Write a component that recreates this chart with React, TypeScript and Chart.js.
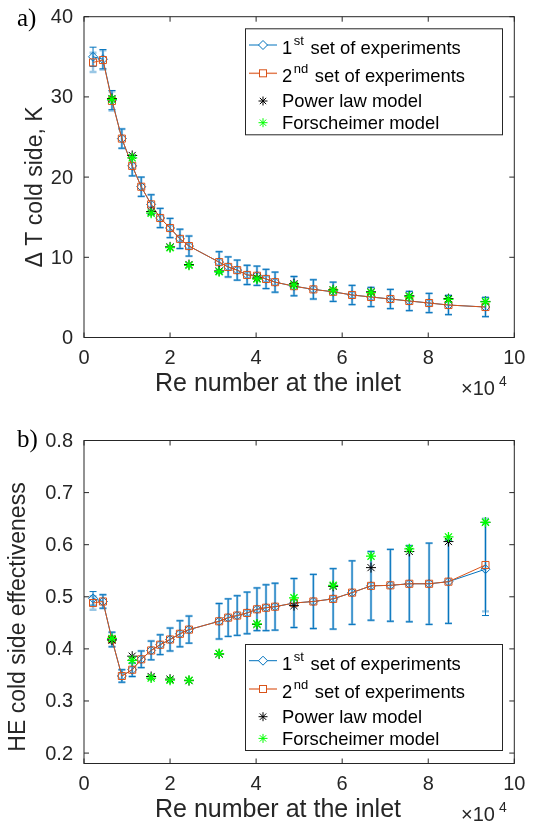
import React, { useEffect, useRef } from 'react';
import { Chart, registerables } from 'chart.js';

Chart.register(...registerables);

// ---------- data ----------
const reExp = [2100, 4400, 6500, 8800, 11200, 13300, 15600, 17700, 20000, 22300, 24400, 31400, 33500, 35600, 37900, 40200, 42300, 44400, 48800, 53300, 57900, 62300, 66700, 71200, 75600, 80200, 84700, 93300];
const dT1 = [35.0, 34.7, 29.6, 24.8, 21.4, 18.8, 16.6, 14.9, 13.65, 12.3, 11.4, 9.4, 8.8, 8.4, 7.8, 7.7, 7.3, 6.9, 6.4, 6.0, 5.7, 5.3, 5.05, 4.8, 4.55, 4.3, 4.05, 3.8];
const dT2 = [34.3, 34.6, 29.5, 24.8, 21.4, 18.8, 16.6, 14.9, 13.65, 12.3, 11.4, 9.4, 8.8, 8.4, 7.8, 7.7, 7.3, 6.9, 6.4, 6.0, 5.7, 5.3, 5.05, 4.8, 4.55, 4.3, 4.05, 3.8];
const dTErr = [1.2, 1.2, 1.2, 1.2, 1.25, 1.2, 1.2, 1.2, 1.2, 1.2, 1.25, 1.3, 1.25, 1.25, 1.2, 1.2, 1.2, 1.25, 1.2, 1.2, 1.2, 1.2, 1.2, 1.2, 1.2, 1.2, 1.2, 1.2];
const eff1 = [0.497, 0.491, 0.418, 0.348, 0.360, 0.380, 0.397, 0.408, 0.418, 0.429, 0.437, 0.453, 0.460, 0.464, 0.469, 0.476, 0.479, 0.481, 0.488, 0.491, 0.496, 0.508, 0.521, 0.522, 0.525, 0.525, 0.529, 0.553];
const eff2 = [0.488, 0.491, 0.418, 0.348, 0.360, 0.380, 0.397, 0.408, 0.418, 0.429, 0.437, 0.453, 0.460, 0.464, 0.469, 0.476, 0.479, 0.481, 0.488, 0.491, 0.496, 0.508, 0.521, 0.522, 0.525, 0.525, 0.529, 0.561];
const effErr = [0.013, 0.013, 0.014, 0.012, 0.013, 0.016, 0.018, 0.019, 0.022, 0.025, 0.026, 0.034, 0.036, 0.038, 0.040, 0.041, 0.044, 0.045, 0.047, 0.052, 0.058, 0.061, 0.066, 0.069, 0.073, 0.078, 0.080, 0.089];

const reModel = [6500, 11200, 15600, 20000, 24400, 31400, 40200, 48800, 57900, 66700, 75600, 84700, 93300];
const dTPower = [29.8, 22.7, 15.7, 11.3, 9.1, 8.3, 7.4, 6.7, 5.95, 5.7, 5.2, 4.85, 4.5];
const dTForsch = [29.7, 22.4, 15.5, 11.2, 9.0, 8.2, 7.3, 6.55, 5.9, 5.6, 5.1, 4.75, 4.45];
const effPower = [0.417, 0.386, 0.347, 0.342, 0.339, 0.390, 0.447, 0.483, 0.520, 0.556, 0.587, 0.606, 0.643];
const effForsch = [0.420, 0.378, 0.344, 0.340, 0.340, 0.391, 0.448, 0.498, 0.522, 0.578, 0.592, 0.615, 0.643];

const xTicks = [0, 20000, 40000, 60000, 80000, 100000];
const dTTicks = [0, 10, 20, 30, 40];
const effTicks = [0.2, 0.3, 0.4, 0.5, 0.6, 0.7, 0.8];

const legendLabels = [
  ['1', 'st', ' set of experiments'],
  ['2', 'nd', ' set of experiments'],
  ['Power law model', '', ''],
  ['Forscheimer model', '', ''],
];

// ---------- styles ----------
const BLUE = '#0072BD';
const ORANGE = '#D95319';
const GREEN = '#00FF00';
const AX = '#262626';
const SANS = '"Liberation Sans", Arial, Helvetica, sans-serif';
const SERIF = '"Liberation Serif", "Times New Roman", serif';
const W = 535;
const PLOT_LEFT = 84;
const PLOT_RIGHT = 514.3;

type PanelCfg = {
  height: number;
  padTop: number;
  plotBottom: number;
  yMin: number;
  yMax: number;
  yTicks: number[];
  yDec: number;
  v1: number[];
  v2: number[];
  err: number[];
  vPower: number[];
  vForsch: number[];
  yTitle: string;
  yTitleX: number;
  yTitleY: number;
  panelLabel: string;
  panelLabelY: number;
  legendTop: number;
};

function drawStar(ctx: CanvasRenderingContext2D, x: number, y: number, r: number, color: string) {
  ctx.save();
  ctx.strokeStyle = color;
  ctx.lineWidth = 1;
  ctx.beginPath();
  ctx.moveTo(x - r, y); ctx.lineTo(x + r, y);
  ctx.moveTo(x, y - r); ctx.lineTo(x, y + r);
  const d = r * Math.SQRT1_2;
  ctx.moveTo(x - d, y - d); ctx.lineTo(x + d, y + d);
  ctx.moveTo(x - d, y + d); ctx.lineTo(x + d, y - d);
  ctx.stroke();
  ctx.restore();
}

function drawLegend(ctx: CanvasRenderingContext2D, bx: number, by: number) {
  const w = 257, h = 106;
  ctx.save();
  ctx.fillStyle = '#ffffff';
  ctx.fillRect(bx, by, w, h);
  ctx.strokeStyle = AX;
  ctx.lineWidth = 1;
  ctx.strokeRect(bx + 0.5, by + 0.5, w, h);
  const rowsMid = [16.7, 45, 72.7, 94.4];
  const rowsBase = [25.7, 54, 78.5, 100.5];
  const lx0 = bx + 4, lx1 = bx + 32, mx = bx + 18;
  // row 1 sample
  ctx.strokeStyle = BLUE;
  ctx.beginPath(); ctx.moveTo(lx0, by + rowsMid[0]); ctx.lineTo(lx1, by + rowsMid[0]); ctx.stroke();
  ctx.fillStyle = '#fff';
  ctx.beginPath();
  const r = 4.5, cy0 = by + rowsMid[0];
  ctx.moveTo(mx, cy0 - r); ctx.lineTo(mx + r, cy0); ctx.lineTo(mx, cy0 + r); ctx.lineTo(mx - r, cy0); ctx.closePath();
  ctx.fill(); ctx.stroke();
  // row 2 sample
  ctx.strokeStyle = ORANGE;
  ctx.globalAlpha = 0.75;
  ctx.lineWidth = 1.5;
  ctx.beginPath(); ctx.moveTo(lx0, by + rowsMid[1]); ctx.lineTo(lx1, by + rowsMid[1]); ctx.stroke();
  ctx.globalAlpha = 1;
  ctx.lineWidth = 1;
  const s = 3.5, cy1 = by + rowsMid[1];
  ctx.fillRect(mx - s, cy1 - s, 2 * s, 2 * s);
  ctx.strokeRect(mx - s, cy1 - s, 2 * s, 2 * s);
  // row 3/4
  drawStar(ctx, mx, by + rowsMid[2], 4.5, '#000');
  drawStar(ctx, mx, by + rowsMid[3], 4.5, GREEN);
  // text
  ctx.fillStyle = '#000';
  ctx.textBaseline = 'alphabetic';
  ctx.textAlign = 'left';
  legendLabels.forEach((parts, i) => {
    let x = bx + 37;
    const yb = by + rowsBase[i];
    ctx.font = `18.4px ${SANS}`;
    ctx.fillText(parts[0], x, yb);
    x += ctx.measureText(parts[0]).width;
    if (parts[1]) {
      ctx.font = `13px ${SANS}`;
      ctx.fillText(parts[1], x + 1.5, yb - 9);
      x += ctx.measureText(parts[1]).width + 3;
      ctx.font = `18.4px ${SANS}`;
      ctx.fillText(parts[2], x, yb);
    }
  });
  ctx.restore();
}

function makeDecor(cfg: PanelCfg) {
  return {
    id: 'decor',
    beforeDatasetsDraw(chart: any) {
      const { ctx, chartArea: a } = chart;
      const xs = chart.scales.x, ys = chart.scales.y;
      ctx.save();
      ctx.beginPath();
      ctx.rect(a.left, a.top, a.right - a.left, a.bottom - a.top);
      ctx.clip();
      const layers = [
        { vals: cfg.v2, color: 'rgba(0,114,189,0.4)', lw: 2.4 },
        { vals: cfg.v1, color: BLUE, lw: 1 },
      ];
      layers.forEach((L) => {
        ctx.strokeStyle = L.color;
        ctx.lineWidth = L.lw;
        reExp.forEach((re, i) => {
          const px = xs.getPixelForValue(re);
          const pTop = ys.getPixelForValue(L.vals[i] + cfg.err[i]);
          const pBot = ys.getPixelForValue(L.vals[i] - cfg.err[i]);
          ctx.beginPath();
          ctx.moveTo(px, pTop); ctx.lineTo(px, pBot);
          ctx.moveTo(px - 3.5, pTop); ctx.lineTo(px + 3.5, pTop);
          ctx.moveTo(px - 3.5, pBot); ctx.lineTo(px + 3.5, pBot);
          ctx.stroke();
        });
      });
      ctx.restore();
    },
    afterDraw(chart: any) {
      const { ctx, chartArea: a } = chart;
      const xs = chart.scales.x, ys = chart.scales.y;
      ctx.save();
      drawLegend(ctx, 245, cfg.legendTop);
      // box
      ctx.strokeStyle = AX;
      ctx.lineWidth = 1;
      ctx.strokeRect(a.left, a.top, a.right - a.left, a.bottom - a.top);
      // ticks
      ctx.beginPath();
      xTicks.forEach((v) => {
        const px = xs.getPixelForValue(v);
        ctx.moveTo(px, a.bottom); ctx.lineTo(px, a.bottom - 5);
        ctx.moveTo(px, a.top); ctx.lineTo(px, a.top + 5);
      });
      cfg.yTicks.forEach((v) => {
        const py = ys.getPixelForValue(v);
        ctx.moveTo(a.left, py); ctx.lineTo(a.left + 5, py);
        ctx.moveTo(a.right, py); ctx.lineTo(a.right - 5, py);
      });
      ctx.stroke();
      // tick labels
      ctx.fillStyle = AX;
      ctx.font = `20px ${SANS}`;
      ctx.textBaseline = 'middle';
      ctx.textAlign = 'center';
      xTicks.forEach((v) => {
        ctx.fillText(String(v / 10000), xs.getPixelForValue(v), a.bottom + 21);
      });
      ctx.textAlign = 'right';
      cfg.yTicks.forEach((v) => {
        ctx.fillText(v.toFixed(cfg.yDec), a.left - 11, ys.getPixelForValue(v) + 1);
      });
      // x title
      ctx.font = `25px ${SANS}`;
      ctx.textAlign = 'right';
      ctx.fillText('Re number at the inlet', 401, a.bottom + 47);
      // exponent
      ctx.textAlign = 'left';
      ctx.textBaseline = 'alphabetic';
      ctx.font = `20px ${SANS}`;
      ctx.fillText('\u00d710', 461, a.bottom + 57);
      ctx.font = `14px ${SANS}`;
      ctx.fillText('4', 499, a.bottom + 48);
      // y title
      ctx.save();
      ctx.translate(cfg.yTitleX, cfg.yTitleY);
      ctx.rotate(-Math.PI / 2);
      ctx.font = `23px ${SANS}`;
      ctx.textAlign = 'center';
      ctx.textBaseline = 'alphabetic';
      ctx.fillText(cfg.yTitle, 0, 0);
      ctx.restore();
      // panel label
      ctx.fillStyle = '#000';
      ctx.font = `25px ${SERIF}`;
      ctx.textAlign = 'left';
      ctx.textBaseline = 'alphabetic';
      ctx.fillText(cfg.panelLabel, 17, cfg.panelLabelY);
      ctx.restore();
    },
  };
}

function Panel({ cfg }: { cfg: PanelCfg }) {
  const ref = useRef<HTMLCanvasElement | null>(null);
  useEffect(() => {
    const canvas = ref.current;
    if (!canvas) return;
    const chart = new Chart(canvas, {
      type: 'line',
      data: {
        datasets: [
          {
            label: '1st set of experiments',
            data: reExp.map((x, i) => ({ x, y: cfg.v1[i] })),
            borderColor: BLUE,
            backgroundColor: 'rgba(0,0,0,0)',
            borderWidth: 1,
            pointStyle: 'rectRot',
            pointRadius: 4.5,
            pointBorderColor: BLUE,
            pointBackgroundColor: 'rgba(0,0,0,0)',
            pointBorderWidth: 1,
            order: 4,
          },
          {
            label: '2nd set of experiments',
            data: reExp.map((x, i) => ({ x, y: cfg.v2[i] })),
            borderColor: ORANGE,
            backgroundColor: 'rgba(0,0,0,0)',
            borderWidth: 1,
            pointStyle: 'rect',
            pointRadius: 5,
            pointBorderColor: ORANGE,
            pointBackgroundColor: 'rgba(0,0,0,0)',
            pointBorderWidth: 1,
            order: 3,
          },
          {
            label: 'Power law model',
            data: reModel.map((x, i) => ({ x, y: cfg.vPower[i] })),
            showLine: false,
            borderColor: '#000',
            pointStyle: 'star',
            pointRadius: 5,
            pointBorderColor: '#000',
            pointBorderWidth: 1,
            order: 2,
          },
          {
            label: 'Forscheimer model',
            data: reModel.map((x, i) => ({ x, y: cfg.vForsch[i] })),
            showLine: false,
            borderColor: GREEN,
            pointStyle: 'star',
            pointRadius: 5,
            pointBorderColor: GREEN,
            pointBorderWidth: 1.3,
            order: 1,
          },
        ],
      },
      options: {
        animation: false,
        responsive: false,
        layout: { padding: { left: 0, right: W - PLOT_RIGHT, top: cfg.padTop, bottom: 0 } },
        elements: { line: { tension: 0 } },
        scales: {
          x: {
            type: 'linear',
            min: 0,
            max: 100000,
            grid: { display: false, drawTicks: false },
            border: { display: false },
            ticks: { display: false },
            afterFit: (s: any) => {
              s.height = cfg.height - cfg.plotBottom;
              s.paddingLeft = 0; s.paddingRight = 0;
            },
          },
          y: {
            type: 'linear',
            min: cfg.yMin,
            max: cfg.yMax,
            grid: { display: false, drawTicks: false },
            border: { display: false },
            ticks: { display: false },
            afterFit: (s: any) => {
              s.width = PLOT_LEFT;
              s.paddingTop = 0; s.paddingBottom = 0;
            },
          },
        },
        plugins: { legend: { display: false }, tooltip: { enabled: false } },
      },
      plugins: [makeDecor(cfg)],
    } as any);
    return () => chart.destroy();
  }, [cfg]);
  return <canvas ref={ref} width={W} height={cfg.height} style={{ display: 'block' }} />;
}

const topCfg: PanelCfg = {
  height: 412,
  padTop: 16.7,
  plotBottom: 337.5,
  yMin: 0,
  yMax: 40,
  yTicks: dTTicks,
  yDec: 0,
  v1: dT1,
  v2: dT2,
  err: dTErr,
  vPower: dTPower,
  vForsch: dTForsch,
  yTitle: '\u0394 T cold side, K',
  yTitleX: 42,
  yTitleY: 187,
  panelLabel: 'a)',
  panelLabelY: 26,
  legendTop: 28.3,
};

const botCfg: PanelCfg = {
  height: 413,
  padTop: 28.5,
  plotBottom: 351.5,
  yMin: 0.18,
  yMax: 0.8,
  yTicks: effTicks,
  yDec: 1,
  v1: eff1,
  v2: eff2,
  err: effErr,
  vPower: effPower,
  vForsch: effForsch,
  yTitle: 'HE cold side effectiveness',
  yTitleX: 25,
  yTitleY: 617 - 412,
  panelLabel: 'b)',
  panelLabelY: 447 - 412,
  legendTop: 644 - 412,
};

export default function App() {
  useEffect(() => {
    document.body.style.margin = '0';
  }, []);
  return (
    <div style={{ width: W, background: '#fff' }}>
      <Panel cfg={topCfg} />
      <Panel cfg={botCfg} />
    </div>
  );
}
